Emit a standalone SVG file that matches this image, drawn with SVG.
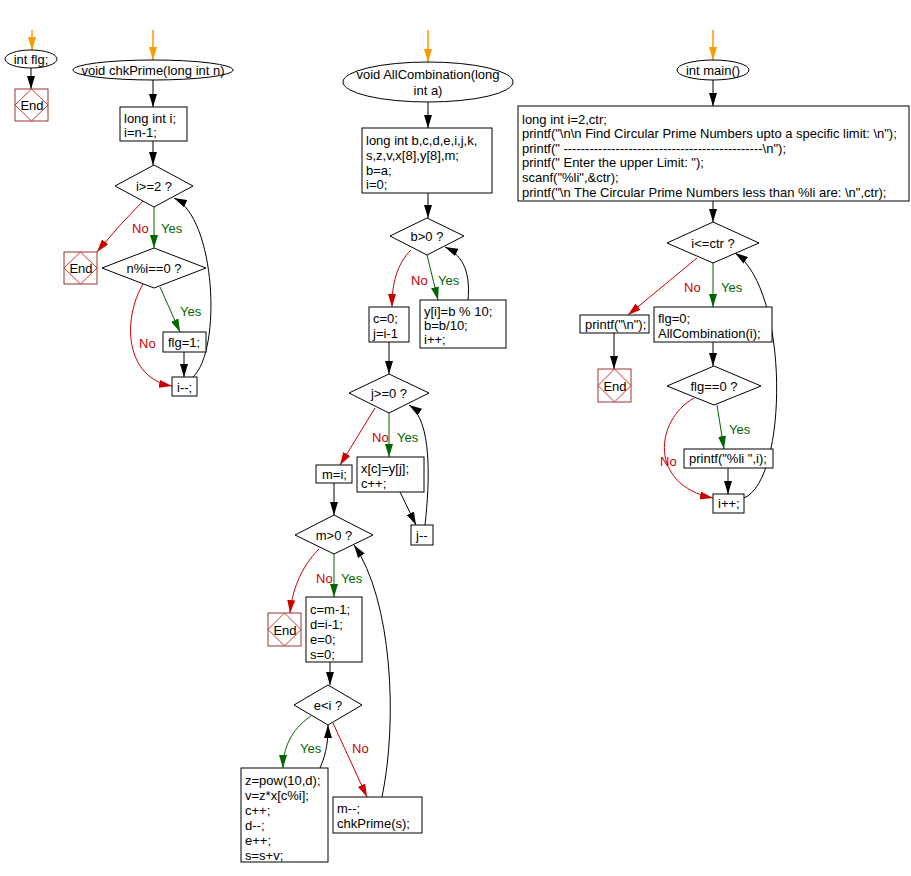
<svg xmlns="http://www.w3.org/2000/svg" width="911" height="876" viewBox="0 0 911 876">
<style>
text{font-family:"Liberation Sans",Arial,sans-serif;font-size:13px;fill:#000}
.m{text-anchor:middle}
.shape{fill:#fff;stroke:#000;stroke-width:1}
.endbox{fill:#fff;stroke:#993333;stroke-width:1}
.enddia{fill:none;stroke:#cc3333;stroke-width:1}
.k{fill:none;stroke:#000;stroke-width:1;marker-end:url(#ak)}
.g{fill:none;stroke:#006600;stroke-width:1;marker-end:url(#ag)}
.r{fill:none;stroke:#cc0000;stroke-width:1;marker-end:url(#ar)}
.o{fill:none;stroke:#ff9900;stroke-width:1.5;marker-end:url(#ao)}
.ty{fill:#006600}
.tn{fill:#cc0000}
</style>
<defs>
<marker id="ak" viewBox="0 0 13 8" refX="13" refY="4" markerWidth="13" markerHeight="8" orient="auto" markerUnits="userSpaceOnUse"><path d="M0,0 L13,4 L0,8 z" fill="#000"/></marker>
<marker id="ag" viewBox="0 0 13 8" refX="13" refY="4" markerWidth="13" markerHeight="8" orient="auto" markerUnits="userSpaceOnUse"><path d="M0,0 L13,4 L0,8 z" fill="#006600"/></marker>
<marker id="ar" viewBox="0 0 13 8" refX="13" refY="4" markerWidth="13" markerHeight="8" orient="auto" markerUnits="userSpaceOnUse"><path d="M0,0 L13,4 L0,8 z" fill="#cc0000"/></marker>
<marker id="ao" viewBox="0 0 13 8" refX="13" refY="4" markerWidth="13" markerHeight="8" orient="auto" markerUnits="userSpaceOnUse"><path d="M0,0 L13,4 L0,8 z" fill="#ff9900"/></marker>
</defs>
<rect width="911" height="876" fill="#fff"/>

<g id="connectors">
<path class="o" d="M32,30 L32,50"/>
<path class="k" d="M31,68 L31,89"/>
<path class="o" d="M153,30 L153,60"/>
<path class="k" d="M153,80 L153,107"/>
<path class="k" d="M153,141 L153,165"/>
<path class="r" d="M143,201 Q118,226 97,252"/>
<path class="g" d="M154,207 L154,248"/>
<path class="r" d="M143,284 C122,320 125,378 172,386"/>
<path class="g" d="M160,287 L180,332"/>
<path class="k" d="M184,352 L184,377"/>
<path class="k" d="M193,377 C222,350 216,218 174,198"/>
<path class="o" d="M428,30 L428,62"/>
<path class="k" d="M428,102 L428,128"/>
<path class="k" d="M428,193 L428,218"/>
<path class="r" d="M411,250 C396,265 392,285 392,307"/>
<path class="g" d="M427,255 L438,300"/>
<path class="k" d="M468,300 C471,268 460,254 445,247"/>
<path class="k" d="M389,342 L389,374"/>
<path class="r" d="M375,408 L340,465"/>
<path class="g" d="M389,413 L389,457"/>
<path class="k" d="M400,492 L416,525"/>
<path class="k" d="M425,525 C430,480 432,420 409,405"/>
<path class="k" d="M334,483 L334,515"/>
<path class="r" d="M319,549 C300,568 292,592 290,613"/>
<path class="g" d="M334,554 L334,597"/>
<path class="k" d="M330,662 L330,685"/>
<path class="g" d="M311,716 C290,730 283,750 283,768"/>
<path class="r" d="M333,723 L367,797"/>
<path class="k" d="M320,768 C327,752 328,740 328,725"/>
<path class="k" d="M382,797 C398,720 392,600 354,545"/>
<path class="o" d="M713,30 L713,60"/>
<path class="k" d="M713,80 L713,106"/>
<path class="k" d="M713,201 L713,222"/>
<path class="r" d="M697,258 L628,315"/>
<path class="g" d="M713,263 L713,307"/>
<path class="k" d="M614,333 L614,369"/>
<path class="k" d="M713,342 L713,366"/>
<path class="r" d="M694,398 C655,420 648,485 713,498"/>
<path class="g" d="M717,405 L724,449"/>
<path class="k" d="M728,468 L728,494"/>
<path class="k" d="M744,498 C788,480 790,290 735,253"/>
</g>

<g id="labels">
<text class="tn" x="132" y="233">No</text>
<text class="ty" x="161" y="233">Yes</text>
<text class="ty" x="180" y="316">Yes</text>
<text class="tn" x="139" y="348">No</text>
<text class="tn" x="411" y="285">No</text>
<text class="ty" x="438" y="285">Yes</text>
<text class="tn" x="372" y="442">No</text>
<text class="ty" x="397" y="442">Yes</text>
<text class="tn" x="316" y="583">No</text>
<text class="ty" x="341" y="583">Yes</text>
<text class="ty" x="300" y="753">Yes</text>
<text class="tn" x="352" y="753">No</text>
<text class="tn" x="684" y="292">No</text>
<text class="ty" x="721" y="292">Yes</text>
<text class="ty" x="729" y="434">Yes</text>
<text class="tn" x="660" y="466">No</text>
</g>

<g id="n_flg"><ellipse class="shape" cx="31" cy="59" rx="26" ry="9"/><text class="m" x="31" y="64">int flg;</text></g>
<g id="n_end1"><rect class="endbox" x="15" y="89" width="33" height="32"/><path class="enddia" d="M31.5,89 L48,105 L31.5,121 L15,105 z"/><text class="m" x="32" y="110">End</text></g>

<g id="n_chk"><ellipse class="shape" cx="153" cy="70" rx="80" ry="10"/><text class="m" x="153" y="75">void chkPrime(long int n)</text></g>
<g id="n_chk_init"><rect class="shape" x="120" y="107" width="67" height="34"/><text x="124" y="123">long int i;</text><text x="124" y="137">i=n-1;</text></g>
<g id="n_ige2"><path class="shape" d="M154,165 L193,186 L154,207 L115,186 z"/><text class="m" x="154" y="191">i&gt;=2 ?</text></g>
<g id="n_end2"><rect class="endbox" x="64" y="252" width="33" height="32"/><path class="enddia" d="M80.5,252 L97,268 L80.5,284 L64,268 z"/><text class="m" x="81" y="273">End</text></g>
<g id="n_nmod"><path class="shape" d="M154,248 L206,268 L154,288 L102,268 z"/><text class="m" x="154" y="273">n%i==0 ?</text></g>
<g id="n_flg1"><rect class="shape" x="163" y="332" width="43" height="20"/><text x="168" y="347">flg=1;</text></g>
<g id="n_idec"><rect class="shape" x="172" y="377" width="25" height="19"/><text x="177" y="392">i--;</text></g>

<g id="n_allc"><ellipse class="shape" cx="428" cy="82" rx="85" ry="20"/><text class="m" x="428" y="79">void AllCombination(long</text><text class="m" x="428" y="95">int a)</text></g>
<g id="n_allc_init"><rect class="shape" x="362" y="128" width="130" height="65"/><text x="366" y="145">long int b,c,d,e,i,j,k,</text><text x="366" y="160">s,z,v,x[8],y[8],m;</text><text x="366" y="175">b=a;</text><text x="366" y="189">i=0;</text></g>
<g id="n_bgt0"><path class="shape" d="M427,218 L464,236 L427,255 L390,236 z"/><text class="m" x="427" y="241">b&gt;0 ?</text></g>
<g id="n_c0"><rect class="shape" x="369" y="307" width="40" height="35"/><text x="373" y="323">c=0;</text><text x="373" y="338">j=i-1</text></g>
<g id="n_yi"><rect class="shape" x="420" y="300" width="86" height="48"/><text x="424" y="316">y[i]=b % 10;</text><text x="424" y="330">b=b/10;</text><text x="424" y="344">i++;</text></g>
<g id="n_jge0"><path class="shape" d="M389,374 L429,393 L389,413 L349,393 z"/><text class="m" x="389" y="398">j&gt;=0 ?</text></g>
<g id="n_mi"><rect class="shape" x="316" y="465" width="36" height="18"/><text x="322" y="479">m=i;</text></g>
<g id="n_xc"><rect class="shape" x="357" y="457" width="67" height="35"/><text x="361" y="473">x[c]=y[j];</text><text x="361" y="488">c++;</text></g>
<g id="n_jdec"><rect class="shape" x="411" y="525" width="22" height="20"/><text x="416" y="540">j--</text></g>
<g id="n_mgt0"><path class="shape" d="M334,515 L373,535 L334,554 L295,535 z"/><text class="m" x="334" y="540">m&gt;0 ?</text></g>
<g id="n_end3"><rect class="endbox" x="268" y="613" width="33" height="33"/><path class="enddia" d="M284.5,613 L301,629.5 L284.5,646 L268,629.5 z"/><text class="m" x="285" y="635">End</text></g>
<g id="n_cm1"><rect class="shape" x="306" y="597" width="56" height="65"/><text x="310" y="614">c=m-1;</text><text x="310" y="629">d=i-1;</text><text x="310" y="644">e=0;</text><text x="310" y="659">s=0;</text></g>
<g id="n_eli"><path class="shape" d="M328,685 L362,705 L328,725 L294,705 z"/><text class="m" x="328" y="710">e&lt;i ?</text></g>
<g id="n_zpow"><rect class="shape" x="241" y="768" width="87" height="94"/><text x="245" y="785">z=pow(10,d);</text><text x="245" y="800">v=z*x[c%i];</text><text x="245" y="815">c++;</text><text x="245" y="830">d--;</text><text x="245" y="845">e++;</text><text x="245" y="860">s=s+v;</text></g>
<g id="n_mdec"><rect class="shape" x="333" y="797" width="89" height="36"/><text x="337" y="813">m--;</text><text x="337" y="828">chkPrime(s);</text></g>

<g id="n_main"><ellipse class="shape" cx="713" cy="70" rx="36" ry="10"/><text class="m" x="713" y="75">int main()</text></g>
<g id="n_main_init"><rect class="shape" x="518" y="106" width="391" height="95"/>
<text x="522" y="124">long int i=2,ctr;</text>
<text x="522" y="138">printf("\n\n Find Circular Prime Numbers upto a specific limit: \n");</text>
<text x="522" y="153">printf(" ----------------------------------------------\n");</text>
<text x="522" y="167">printf(" Enter the upper Limit: ");</text>
<text x="522" y="182">scanf("%li",&amp;ctr);</text>
<text x="522" y="197">printf("\n The Circular Prime Numbers less than %li are: \n",ctr);</text></g>
<g id="n_ilectr"><path class="shape" d="M713,222 L759,243 L713,263 L667,243 z"/><text class="m" x="713" y="248">i&lt;=ctr ?</text></g>
<g id="n_pn"><rect class="shape" x="580" y="315" width="69" height="18"/><text x="585" y="329">printf("\n");</text></g>
<g id="n_flg0"><rect class="shape" x="654" y="307" width="118" height="35"/><text x="658" y="323">flg=0;</text><text x="658" y="338">AllCombination(i);</text></g>
<g id="n_end4"><rect class="endbox" x="598" y="369" width="33" height="33"/><path class="enddia" d="M614.5,369 L631,385.5 L614.5,402 L598,385.5 z"/><text class="m" x="615" y="391">End</text></g>
<g id="n_flgeq0"><path class="shape" d="M714,366 L761,386 L714,405 L667,386 z"/><text class="m" x="714" y="391">flg==0 ?</text></g>
<g id="n_pli"><rect class="shape" x="684" y="449" width="89" height="19"/><text x="689" y="463">printf("%li ",i);</text></g>
<g id="n_iinc"><rect class="shape" x="713" y="494" width="31" height="19"/><text x="718" y="508">i++;</text></g>
</svg>
